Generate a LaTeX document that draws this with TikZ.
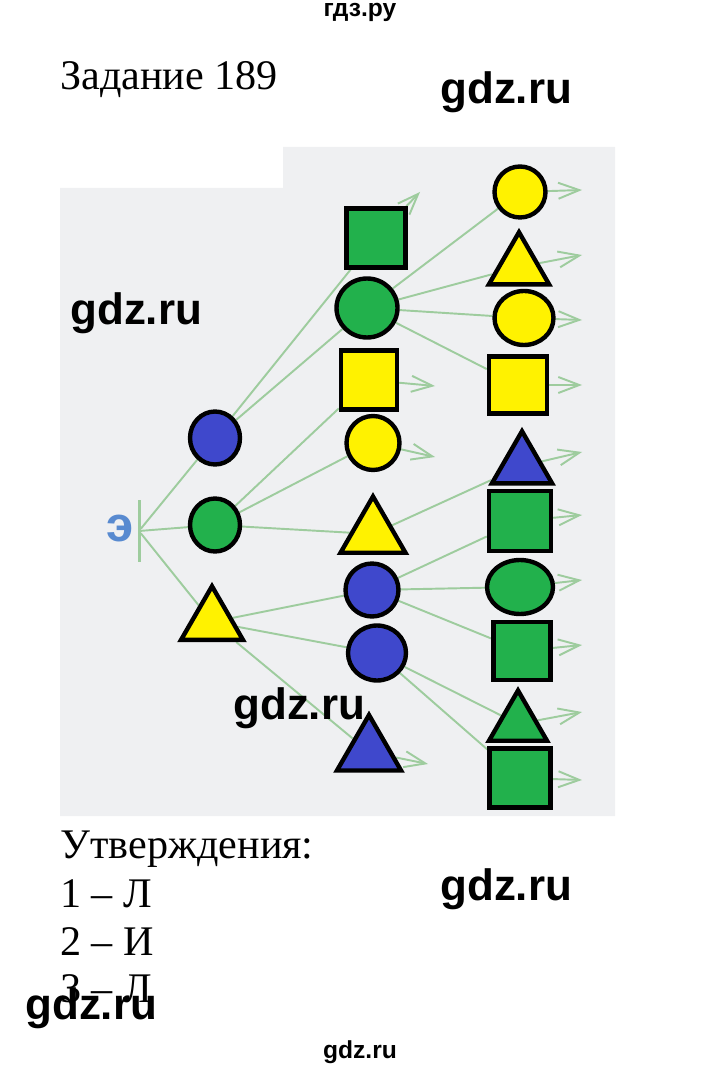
\documentclass[tikz,border=0pt]{standalone}
\usepackage{fontspec}
\setmainfont{Liberation Serif}
\newfontfamily\gdzfont{Liberation Sans}
\usetikzlibrary{shapes.geometric,arrows.meta}

\definecolor{zel}{RGB}{34,177,76}
\definecolor{zhelt}{RGB}{255,242,0}
\definecolor{sin}{RGB}{63,72,204}
\definecolor{vetv}{RGB}{158,204,158}
\definecolor{fonc}{RGB}{239,240,242}
\definecolor{bukva}{RGB}{88,138,208}

\pgfdeclarelayer{fon}
\pgfdeclarelayer{vetki}
\pgfsetlayers{fon,vetki,main}

\tikzset{
  fig/.style={draw=black, line width=2.5pt, inner sep=0pt},
  krug/.style={fig, ellipse, minimum width=1.0cm, minimum height=1.06cm},
  kvadr/.style={fig, rectangle, minimum width=1.18cm, minimum height=1.18cm},
  treug/.style={fig, regular polygon, regular polygon sides=3, minimum size=1.45cm},
  vetka/.style={draw=vetv, line width=1.1pt},
  strelka/.style={vetka, -{Straight Barb[length=0.42cm,width=0.32cm]}},
  znak/.style={font=\gdzfont\bfseries\fontsize{25}{25}\selectfont, anchor=base west, inner sep=0pt},
  zapis/.style={font=\fontsize{24}{28}\selectfont, anchor=base west, inner sep=0pt}
}

\begin{document}
\begin{tikzpicture}[x=0.02cm, y=-0.02cm]
    \useasboundingbox (0,0) rectangle (720,1070);
    \begin{pgfonlayer}{fon}
        \fill[fonc] (60,188) -- (283,188) -- (283,147) -- (615,147) -- (615,816) -- (60,816) -- cycle;
    \end{pgfonlayer}

    \node[font=\gdzfont\bfseries\fontsize{14}{14}\selectfont, anchor=base] (verh) at (360,17) {гдз.ру};
    \node[zapis] (zad) at (60,90) {Задание 189};

    % koren
    \node[font=\gdzfont\bfseries\fontsize{28}{28}\selectfont, text=bukva, inner sep=0pt, anchor=base] (bukvaE) at (120,541) {э};
    \node[fill=vetv, inner sep=0pt, minimum width=0.06cm, minimum height=1.24cm] (koren) at (139,531) {};

    % 1 stolbec
    \node[krug, fill=sin] (sin1) at (215,438) {};
    \node[krug, fill=zel] (zel1) at (215,525) {};
    \node[treug, fill=zhelt, minimum size=1.43cm] (zhtr1) at (212,622) {};

    % 2 stolbec
    \node[kvadr, fill=zel] (zkv2) at (376,238) {};
    \node[krug, fill=zel, minimum width=1.22cm, minimum height=1.18cm] (zkr2) at (367,308) {};
    \node[kvadr, fill=zhelt, minimum width=1.12cm] (zhkv2) at (369,380) {};
    \node[krug, fill=zhelt, minimum width=1.06cm, minimum height=1.08cm] (zhkr2) at (373,443) {};
    \node[treug, fill=zhelt, minimum size=1.5cm] (zhtr2) at (373,534) {};
    \node[krug, fill=sin, minimum width=1.06cm, minimum height=1.06cm] (skr2) at (372,590) {};
    \node[krug, fill=sin, minimum width=1.16cm, minimum height=1.1cm] (skr3) at (377,653) {};
    \node[treug, fill=sin, minimum size=1.48cm] (str2) at (369,752) {};

    % 3 stolbec
    \node[krug, fill=zhelt, minimum width=1.02cm, minimum height=1.02cm] (zhkr3) at (520,192) {};
    \node[treug, fill=zhelt, minimum size=1.39cm] (zhtr3) at (519,267) {};
    \node[krug, fill=zhelt, minimum width=1.18cm, minimum height=1.08cm] (zhkr4) at (524,318) {};
    \node[kvadr, fill=zhelt, minimum width=1.16cm, minimum height=1.14cm] (zhkv3) at (518,385) {};
    \node[treug, fill=sin, minimum size=1.39cm] (str3) at (522,466) {};
    \node[kvadr, fill=zel, minimum width=1.24cm, minimum height=1.2cm] (zkv3) at (520,521) {};
    \node[krug, fill=zel, minimum width=1.32cm, minimum height=1.08cm] (zkr3) at (520,587) {};
    \node[kvadr, fill=zel, minimum width=1.14cm, minimum height=1.16cm] (zkv4) at (522,651) {};
    \node[treug, fill=zel, minimum size=1.34cm] (ztr3) at (518,724) {};
    \node[kvadr, fill=zel, minimum width=1.22cm, minimum height=1.18cm] (zkv5) at (520,778) {};

    \coordinate (kA) at (420,192);
    \coordinate (kB) at (435,386);
    \coordinate (kC) at (435,457);
    \coordinate (kD) at (428,764);

    \begin{pgfonlayer}{vetki}
        \draw[vetka] (koren) -- (sin1);
        \draw[vetka] (koren) -- (zel1);
        \draw[vetka] (koren) -- (zhtr1);

        \draw[vetka] (sin1) -- (zkv2);
        \draw[vetka] (sin1) -- (zkr2);
        \draw[vetka] (zel1) -- (zhkv2);
        \draw[vetka] (zel1) -- (zhkr2);
        \draw[vetka] (zel1) -- (zhtr2);
        \draw[vetka] (zhtr1) -- (skr2);
        \draw[vetka] (zhtr1) -- (skr3);
        \draw[vetka] (zhtr1) -- (str2);

        \draw[vetka] (zkr2) -- (zhkr3);
        \draw[vetka] (zkr2) -- (zhtr3);
        \draw[vetka] (zkr2) -- (zhkr4);
        \draw[vetka] (zkr2) -- (zhkv3);
        \draw[vetka] (zhtr2) -- (str3);
        \draw[vetka] (skr2) -- (zkv3);
        \draw[vetka] (skr2) -- (zkr3);
        \draw[vetka] (skr2) -- (zkv4);
        \draw[vetka] (skr3) -- (ztr3);
        \draw[vetka] (skr3) -- (zkv5);

        \draw[strelka] (zkv2) -- (kA);
        \draw[strelka] (zhkv2) -- (kB);
        \draw[strelka] (zhkr2) -- (kC);
        \draw[strelka] (str2) -- (kD);

        \foreach \uzel/\yy in {zhkr3/190, zhtr3/255, zhkr4/320, zhkv3/385, str3/452, zkv3/515, zkr3/580, zkv4/645, ztr3/712, zkv5/780} {
            \coordinate (k-\uzel) at (582,\yy);
            \draw[strelka] (\uzel) -- (k-\uzel);
        }
    \end{pgfonlayer}

    \node[zapis] (utv) at (60,858) {Утверждения:};
    \node[zapis] (ut1) at (60,907) {1 – Л};
    \node[zapis] (ut2) at (60,955) {2 – И};
    \node[zapis] (ut3) at (60,1002) {3 – Л};

    \node[znak] (gdz1) at (440,104) {gdz.ru};
    \node[znak] (gdz2) at (70,325) {gdz.ru};
    \node[znak] (gdz3) at (233,719) {gdz.ru};
    \node[znak] (gdz4) at (440,900) {gdz.ru};
    \node[znak] (gdz5) at (25,1019) {gdz.ru};
    \node[font=\gdzfont\bfseries\fontsize{14}{14}\selectfont, anchor=base] (gdz6) at (360,1058) {gdz.ru};
\end{tikzpicture}
\end{document}
